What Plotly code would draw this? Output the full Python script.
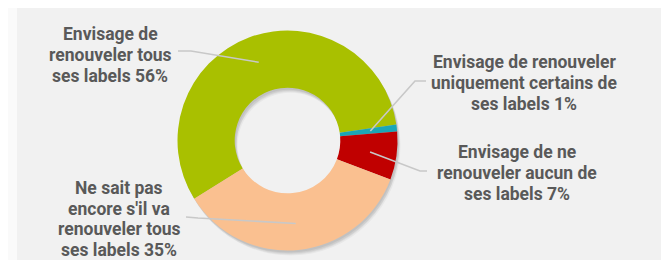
import math
import plotly.graph_objects as go

# ---- data ----
labels = [
    "Envisage de<br>renouveler tous<br>ses labels 56%",
    "Envisage de renouveler<br>uniquement certains de<br>ses labels 1%",
    "Envisage de ne<br>renouveler aucun de<br>ses labels 7%",
    "Ne sait pas<br>encore s'il va<br>renouveler tous<br>ses labels 35%",
]
values = [56, 1, 7, 35]
colors = ["#a9c000", "#1ba6b6", "#c00000", "#fac090"]

# ---- layout constants (pixels) ----
W, H = 669, 260
CX, CY, R = 279.5, 132.5, 110.0
HOLE = 0.48
ROTATION = 238  # clockwise from 12 o'clock
LINE_H = 20.7

# label centres (px) and leader line outer ends (elbow, end) in px
label_pos = [(102, 47), (516, 75), (509, 165), (111, 211)]
leader_out = [
    [(183, 43), (170, 43)],
    [(407, 73), (418, 73)],
    [(412, 163), (419, 163)],
    [(190, 210), (178, 209)],
]

def px(x):
    return x / W

def py(y):
    return 1 - y / H

fig = go.Figure()

# soft shadow (layered)
for kx, ky, op in [(3, 5, 0.04), (2, 4, 0.05), (2, 3, 0.06), (1, 2, 0.06)]:
    fig.add_trace(go.Pie(
        values=[sum(values)], hole=HOLE, sort=False,
        marker=dict(colors=[f"rgba(0,0,0,{op})"], line=dict(width=0)),
        textinfo="none", hoverinfo="skip", showlegend=False,
        domain=dict(x=[px(CX - R + kx), px(CX + R + kx)], y=[py(CY + R + ky), py(CY - R + ky)]),
    ))

fig.add_trace(go.Pie(
    labels=labels, values=values, hole=HOLE, sort=False,
    direction="clockwise", rotation=ROTATION,
    marker=dict(colors=colors, line=dict(width=0)),
    textinfo="none", showlegend=False,
    domain=dict(x=[px(CX - R), px(CX + R)], y=[py(CY + R), py(CY - R)]),
))

total = sum(values)
shapes = []
annotations = []
cum = 0
r_mid = R * (1 + HOLE) / 2 + 2
for i, v in enumerate(values):
    mid = ROTATION + (cum + v / 2) / total * 360
    cum += v
    a = math.radians(mid)
    x0 = CX + r_mid * math.sin(a)
    y0 = CY - r_mid * math.cos(a)
    (ex, ey), (tx, ty) = leader_out[i]
    path = f"M {px(x0)},{py(y0)} L {px(ex)},{py(ey)} L {px(tx)},{py(ty)}"
    shapes.append(dict(type="path", xref="paper", yref="paper", path=path,
                       line=dict(color="#c8c8c8", width=1.6)))
    lx, ly = label_pos[i]
    lines = labels[i].split("<br>")
    n = len(lines)
    for j, ln in enumerate(lines):
        yy = ly + (j - (n - 1) / 2) * LINE_H
        annotations.append(dict(
            x=px(lx), y=py(yy), xref="paper", yref="paper", text=ln,
            showarrow=False, xanchor="center", yanchor="middle", align="center",
            font=dict(family="Roboto", size=17.5, color="#595959", weight=700),
        ))

shapes.insert(0, dict(type="rect", xref="paper", yref="paper", x0=0, x1=px(9), y0=0, y1=1,
                      fillcolor="#fafafa", line=dict(width=0), layer="below"))

fig.update_layout(
    width=W, height=H, margin=dict(l=0, r=0, t=0, b=0),
    paper_bgcolor="#f1f1f1", plot_bgcolor="#f1f1f1",
    shapes=shapes, annotations=annotations,
)

fig.write_html("out.html")
